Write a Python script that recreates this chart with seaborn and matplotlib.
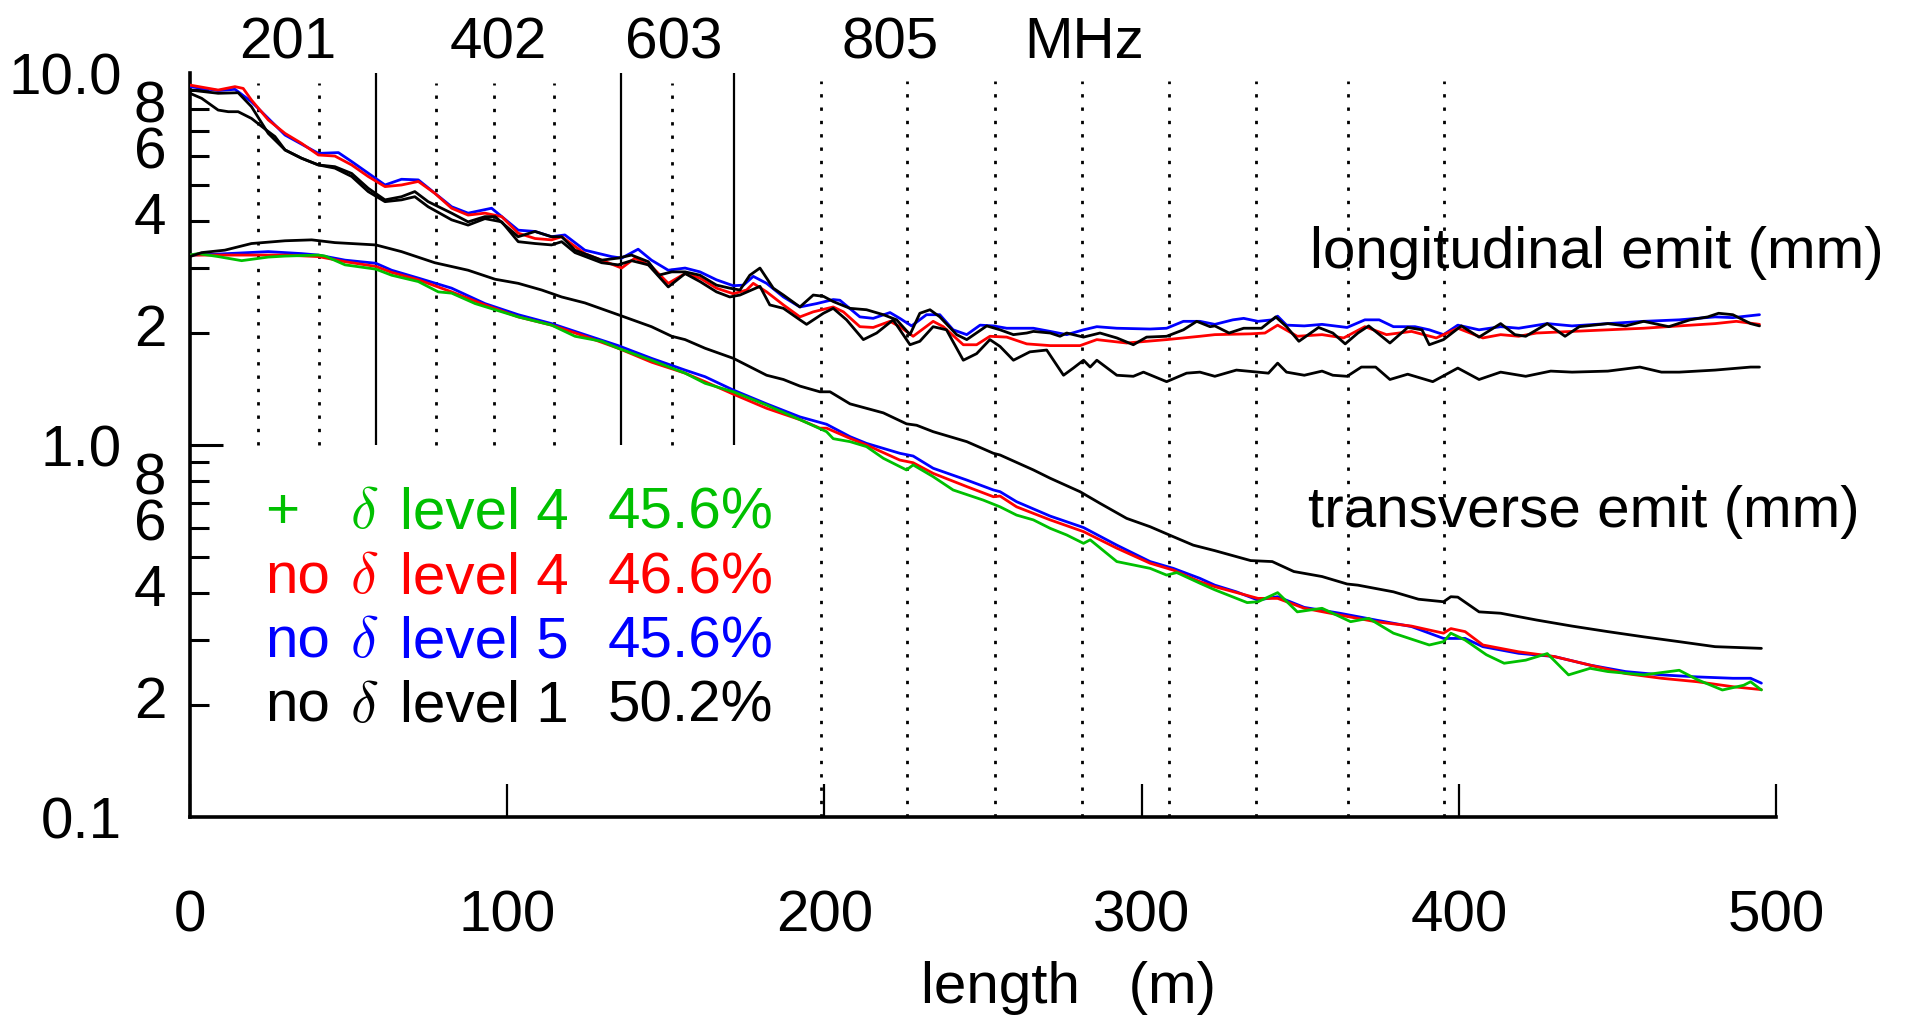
import matplotlib
matplotlib.use("Agg")
import matplotlib.pyplot as plt
import matplotlib.transforms as mtransforms
import seaborn as sns

# ------------------------------------------------------------
# data (length in m, emittance in mm)
# ------------------------------------------------------------
long_red = [(0, 9.28), (8.9, 9.00), (14.2, 9.19), (16.8, 9.09), (19.4, 8.46), (24.7, 7.48), (30.0, 6.88),
            (35.2, 6.47), (40.5, 6.02), (45.7, 5.98), (51.0, 5.66), (56.2, 5.27), (61.5, 4.95), (66.7, 5.00),
            (72.0, 5.11), (77.2, 4.75), (82.5, 4.33), (87.7, 4.15), (93.0, 4.20), (98.3, 4.11), (103.5, 3.71),
            (108.8, 3.59), (114.0, 3.56), (117.2, 3.63), (124.5, 3.27), (129.8, 3.14), (136.1, 2.99),
            (140.3, 3.18), (145.5, 3.02), (150.8, 2.72), (156.1, 2.89), (160.8, 2.81), (166.0, 2.64),
            (171.3, 2.55), (175.5, 2.61), (177.6, 2.72), (181.8, 2.58), (187.1, 2.38), (192.3, 2.21),
            (196.5, 2.28), (202.8, 2.35), (206.0, 2.28), (211.2, 2.08), (215.4, 2.07), (220.7, 2.15),
            (223.8, 2.08), (228.0, 1.96), (234.3, 2.15), (237.5, 2.08), (243.8, 1.86), (248.0, 1.86),
            (252.2, 1.96), (257.5, 1.95), (263.8, 1.87), (271.2, 1.85), (280.6, 1.85), (285.9, 1.92),
            (295.3, 1.88), (307.9, 1.92), (318.4, 1.96), (323.1, 1.98), (334.4, 1.99), (338.9, 2.00),
            (342.9, 2.10), (349.1, 1.96), (356.9, 1.98), (363.7, 1.94), (370.4, 2.08), (377.2, 1.98),
            (385.1, 2.02), (392.9, 1.94), (399.7, 2.06), (407.6, 1.94), (413.2, 1.98), (418.9, 1.96),
            (424.5, 2.00), (435.7, 2.02), (447.0, 2.04), (458.3, 2.06), (469.5, 2.09), (480.8, 2.12),
            (487.5, 2.15), (494.8, 2.11)]

long_blue = [(0, 9.19), (8.9, 8.97), (14.2, 9.04), (19.4, 8.37), (30.0, 6.81), (40.5, 6.08), (46.8, 6.11),
             (51.0, 5.78), (61.5, 5.00), (66.7, 5.18), (72.0, 5.16), (82.5, 4.37), (87.7, 4.20), (95.1, 4.33),
             (103.5, 3.78), (108.8, 3.75), (114.0, 3.63), (118.2, 3.67), (124.5, 3.34), (132.9, 3.21),
             (136.1, 3.18), (141.3, 3.36), (145.5, 3.14), (150.8, 2.95), (156.1, 2.99), (160.8, 2.92),
             (166.0, 2.78), (171.3, 2.68), (174.5, 2.69), (177.6, 2.84), (181.8, 2.72), (187.1, 2.50),
             (192.3, 2.35), (197.6, 2.40), (202.8, 2.46), (204.9, 2.45), (211.2, 2.21), (215.4, 2.19),
             (220.7, 2.27), (223.8, 2.19), (227.5, 2.09), (232.2, 2.24), (236.4, 2.24), (240.6, 2.04),
             (244.9, 1.98), (249.1, 2.10), (253.3, 2.09), (257.5, 2.06), (265.9, 2.06), (271.2, 2.02),
             (276.4, 1.98), (281.7, 2.04), (285.9, 2.08), (292.2, 2.06), (302.7, 2.05), (307.9, 2.06),
             (313.2, 2.15), (318.4, 2.15), (323.1, 2.11), (328.8, 2.17), (332.2, 2.19), (336.7, 2.15),
             (341.2, 2.17), (342.9, 2.22), (345.7, 2.10), (351.3, 2.09), (356.9, 2.11), (364.8, 2.07),
             (370.4, 2.17), (374.9, 2.17), (379.4, 2.08), (386.2, 2.08), (390.7, 2.04), (395.2, 1.98),
             (399.7, 2.10), (406.4, 2.04), (413.2, 2.08), (418.9, 2.06), (427.9, 2.12), (435.7, 2.09),
             (447.0, 2.12), (458.3, 2.15), (469.5, 2.17), (480.8, 2.21), (486.4, 2.20), (494.8, 2.24)]

long_black_a = [(0, 9.00), (8.9, 8.82), (15.2, 8.85), (19.4, 8.12), (24.7, 6.88), (30.0, 6.21), (35.2, 5.90),
                (40.5, 5.66), (45.7, 5.60), (51.0, 5.37), (56.2, 4.90), (61.5, 4.56), (66.7, 4.65), (70.9, 4.80),
                (75.1, 4.51), (82.5, 4.20), (87.7, 3.98), (93.0, 4.11), (96.2, 4.11), (103.5, 3.63),
                (108.8, 3.75), (114.0, 3.63), (117.2, 3.63), (121.4, 3.34), (129.8, 3.14), (135.0, 3.18),
                (139.2, 3.24), (144.5, 3.11), (147.7, 2.86), (151.9, 2.92), (156.1, 2.92), (160.8, 2.86),
                (166.0, 2.69), (170.2, 2.64), (173.4, 2.61), (176.5, 2.86), (179.7, 2.99), (183.9, 2.64),
                (187.1, 2.53), (192.3, 2.35), (196.5, 2.53), (199.7, 2.51), (202.8, 2.43), (208.1, 2.33),
                (213.3, 2.31), (218.6, 2.24), (222.8, 2.17), (227.0, 1.98), (230.1, 2.26), (233.3, 2.31),
                (236.4, 2.21), (241.7, 1.98), (244.9, 1.92), (251.2, 2.09), (255.4, 2.04), (259.6, 1.98),
                (263.8, 2.00), (265.9, 2.02), (271.2, 2.00), (274.3, 1.96), (276.4, 2.00), (281.7, 1.95),
                (286.9, 2.00), (292.2, 1.94), (297.4, 1.86), (301.6, 1.95), (307.9, 1.96), (313.2, 2.04),
                (317.4, 2.15), (321.6, 2.08), (323.1, 2.09), (327.6, 2.00), (332.2, 2.06), (337.8, 2.06),
                (342.3, 2.21), (345.7, 2.08), (349.6, 1.90), (355.8, 2.07), (360.3, 2.00), (364.2, 1.87),
                (368.2, 2.00), (371.6, 2.09), (378.3, 1.88), (383.9, 2.07), (388.4, 2.04), (390.7, 1.86),
                (395.2, 1.92), (400.8, 2.09), (406.4, 1.95), (413.2, 2.12), (417.7, 1.98), (421.1, 1.96),
                (427.9, 2.12), (433.5, 1.96), (438.0, 2.08), (447.0, 2.12), (452.6, 2.09), (458.3, 2.15),
                (466.2, 2.08), (472.9, 2.17), (478.5, 2.21), (481.9, 2.26), (486.4, 2.24), (492.0, 2.12),
                (494.8, 2.09)]

long_black_b = [(0, 8.82), (3.7, 8.55), (8.9, 7.95), (12.1, 7.87), (15.2, 7.87), (19.4, 7.55), (24.7, 6.96),
                (26.8, 6.75), (30.0, 6.21), (35.2, 5.90), (40.5, 5.66), (45.7, 5.55), (51.0, 5.27), (56.2, 4.80),
                (61.5, 4.51), (66.7, 4.56), (70.9, 4.65), (75.1, 4.37), (82.5, 4.03), (87.7, 3.90), (93.0, 4.06),
                (98.3, 3.98), (103.5, 3.52), (108.8, 3.48), (114.0, 3.45), (117.2, 3.52), (121.4, 3.29),
                (129.8, 3.09), (135.0, 3.05), (139.2, 3.13), (144.5, 3.05), (150.8, 2.66), (156.1, 2.89),
                (160.8, 2.75), (166.0, 2.58), (170.2, 2.50), (173.4, 2.53), (179.7, 2.67), (182.8, 2.38),
                (187.1, 2.33), (192.3, 2.17), (194.4, 2.11), (199.7, 2.26), (202.8, 2.33), (207.0, 2.17),
                (212.3, 1.92), (216.5, 2.00), (221.7, 2.17), (227.0, 1.86), (230.1, 1.90), (234.3, 2.08),
                (238.5, 2.04), (243.8, 1.69), (248.0, 1.76), (252.2, 1.92), (255.4, 1.84), (259.6, 1.69),
                (264.8, 1.78), (270.1, 1.80), (275.4, 1.54), (278.5, 1.61), (281.7, 1.69), (283.8, 1.62),
                (285.9, 1.69), (292.2, 1.54), (297.4, 1.53), (300.6, 1.57), (307.9, 1.48), (314.2, 1.56),
                (318.4, 1.57), (323.1, 1.53), (329.9, 1.59), (336.7, 1.57), (340.0, 1.56), (342.9, 1.66),
                (345.7, 1.57), (351.3, 1.54), (356.9, 1.58), (360.3, 1.54), (364.8, 1.53), (369.3, 1.62),
                (373.8, 1.62), (378.3, 1.50), (383.9, 1.55), (391.8, 1.48), (399.7, 1.61), (406.4, 1.50),
                (413.2, 1.57), (421.1, 1.53), (429.0, 1.58), (435.7, 1.57), (447.0, 1.58), (457.1, 1.62),
                (463.9, 1.57), (469.5, 1.57), (480.8, 1.59), (492.0, 1.62), (494.8, 1.62)]

trans_green = [(0, 3.24), (2.6, 3.27), (8.9, 3.21), (16.3, 3.13), (24.7, 3.20), (30.0, 3.22), (40.5, 3.24),
               (42.6, 3.22), (48.9, 3.05), (58.6, 2.97), (63.6, 2.86), (72.0, 2.75), (78.3, 2.58), (82.5, 2.56),
               (89.9, 2.40), (96.2, 2.31), (103.5, 2.21), (114.0, 2.10), (121.4, 1.96), (129.8, 1.90),
               (135.0, 1.82), (145.5, 1.69), (156.1, 1.56), (162.4, 1.465), (171.3, 1.39), (181.8, 1.28),
               (192.3, 1.17), (200.7, 1.086), (202.8, 1.04), (208.1, 1.021), (213.3, 0.99), (218.6, 0.921),
               (225.9, 0.857), (228.0, 0.884), (234.3, 0.822), (240.6, 0.757), (250.1, 0.711), (255.4, 0.682),
               (260.6, 0.648), (265.9, 0.629), (271.2, 0.597), (276.4, 0.573), (281.7, 0.544), (283.8, 0.556),
               (292.2, 0.486), (302.7, 0.466), (307.9, 0.447), (311.1, 0.454), (318.4, 0.425), (323.1, 0.408),
               (333.3, 0.377), (336.7, 0.379), (342.9, 0.401), (349.1, 0.356), (356.9, 0.364), (365.9, 0.335),
               (371.6, 0.342), (379.4, 0.312), (390.7, 0.290), (395.2, 0.296), (397.5, 0.312), (402.0, 0.299),
               (408.7, 0.273), (414.3, 0.259), (421.1, 0.264), (427.9, 0.275), (434.6, 0.241), (441.4, 0.251),
               (447.0, 0.246), (458.3, 0.241), (469.5, 0.248), (475.2, 0.234), (483.1, 0.2195), (489.8, 0.226),
               (492.0, 0.231), (495.4, 0.2195)]

trans_red = [(0, 3.24), (8.9, 3.24), (19.4, 3.24), (30.0, 3.24), (40.5, 3.21), (48.9, 3.11), (58.6, 3.02),
             (63.6, 2.91), (72.0, 2.78), (82.5, 2.58), (93.0, 2.38), (103.5, 2.21), (114.0, 2.10), (124.5, 1.96),
             (135.0, 1.82), (145.5, 1.67), (156.1, 1.56), (162.4, 1.48), (171.3, 1.37), (181.8, 1.255),
             (192.3, 1.17), (198.6, 1.11), (200.7, 1.11), (208.1, 1.042), (213.3, 1.00), (223.8, 0.911),
             (228.0, 0.896), (234.3, 0.839), (244.9, 0.773), (253.3, 0.726), (255.4, 0.729), (260.6, 0.682),
             (271.2, 0.629), (281.7, 0.585), (292.2, 0.528), (302.7, 0.481), (310.0, 0.461), (318.4, 0.429),
             (323.1, 0.416), (336.7, 0.387), (342.9, 0.387), (351.3, 0.364), (362.5, 0.349), (373.8, 0.335),
             (385.1, 0.326), (395.2, 0.312), (397.5, 0.321), (402.0, 0.315), (407.6, 0.290), (418.9, 0.278),
             (430.1, 0.270), (441.4, 0.256), (452.6, 0.243), (463.9, 0.236), (475.2, 0.231), (486.4, 0.224),
             (495.4, 0.220)]

trans_blue = [(0, 3.24), (8.9, 3.26), (24.7, 3.31), (35.2, 3.27), (40.5, 3.24), (48.9, 3.14), (58.6, 3.08),
              (63.6, 2.95), (72.0, 2.81), (82.5, 2.64), (93.0, 2.40), (103.5, 2.24), (114.0, 2.12), (124.5, 1.98),
              (135.0, 1.85), (145.5, 1.71), (156.1, 1.59), (162.4, 1.526), (171.3, 1.405), (181.8, 1.29),
              (192.3, 1.19), (200.7, 1.137), (208.1, 1.053), (213.3, 1.01), (223.8, 0.95), (228.0, 0.934),
              (234.3, 0.866), (244.9, 0.805), (253.3, 0.757), (255.4, 0.749), (260.6, 0.704), (271.2, 0.644),
              (281.7, 0.600), (292.2, 0.538), (302.7, 0.486), (310.0, 0.466), (318.4, 0.438), (323.1, 0.420),
              (329.9, 0.403), (336.7, 0.383), (342.9, 0.391), (351.3, 0.366), (362.5, 0.353), (373.8, 0.3385),
              (385.1, 0.325), (395.2, 0.302), (402.0, 0.302), (407.6, 0.287), (418.9, 0.2754), (430.1, 0.270),
              (441.4, 0.256), (452.6, 0.246), (463.9, 0.241), (475.2, 0.238), (486.4, 0.236), (492.0, 0.236),
              (495.4, 0.229)]

trans_black = [(0, 3.21), (3.7, 3.29), (11.0, 3.34), (19.4, 3.48), (30.0, 3.54), (38.4, 3.56), (45.7, 3.50),
               (58.6, 3.45), (66.7, 3.31), (77.2, 3.09), (87.7, 2.95), (96.2, 2.79), (103.5, 2.72), (110.9, 2.61),
               (117.2, 2.50), (124.5, 2.41), (135.0, 2.24), (145.5, 2.08), (151.9, 1.96), (156.1, 1.92),
               (162.4, 1.82), (171.3, 1.71), (181.8, 1.54), (187.1, 1.50), (192.3, 1.44), (198.6, 1.39),
               (201.8, 1.39), (208.1, 1.29), (218.6, 1.22), (225.9, 1.14), (229.1, 1.13), (234.3, 1.086),
               (244.9, 1.021), (253.3, 0.95), (255.4, 0.94), (265.9, 0.857), (271.2, 0.814), (280.6, 0.749),
               (286.9, 0.697), (295.3, 0.635), (302.7, 0.603), (310.0, 0.567), (316.3, 0.538), (323.1, 0.520),
               (334.4, 0.489), (341.2, 0.486), (348.0, 0.457), (356.9, 0.443), (364.8, 0.423), (368.2, 0.420),
               (379.4, 0.403), (387.3, 0.385), (395.2, 0.379), (397.5, 0.391), (399.7, 0.390), (406.4, 0.356),
               (413.2, 0.353), (424.5, 0.3385), (435.7, 0.326), (447.0, 0.315), (458.3, 0.305), (469.5, 0.296),
               (480.8, 0.287), (495.4, 0.284)]

# cavity section markers (m)
solid_x = [58.6, 135.8, 171.5]
dotted_short_x = [21.6, 40.6, 77.6, 95.9, 114.9, 151.9]
dotted_long_x = [198.9, 226.2, 253.9, 281.2, 308.6, 336.2, 365.2, 395.4]

freq_labels = ["201", "402", "603", "805", "MHz"]
freq_x = [30.9, 97.1, 152.4, 220.7, 282.0]

legend_prefix = ["+", "no", "no", "no"]
legend_level = ["level 4", "level 4", "level 5", "level 1"]
legend_pct = ["45.6%", "46.6%", "45.6%", "50.2%"]

x_ticks = [0, 100, 200, 300, 400, 500]
y_major = [0.1, 1.0, 10.0]
y_major_labels = ["0.1", "1.0", "10.0"]
y_minor = [0.2, 0.3, 0.4, 0.5, 0.6, 0.7, 0.8, 0.9, 2, 3, 4, 5, 6, 7, 8, 9]
y_minor_labels = ["2", "", "4", "", "6", "", "8", "", "2", "", "4", "", "6", "", "8", ""]

GREEN, RED, BLUE, BLACK = "#00c000", "#ff0000", "#0000ff", "#000000"
legend_colors = [GREEN, RED, BLUE, BLACK]

# ------------------------------------------------------------
# style
# ------------------------------------------------------------
sns.set_style("ticks")
plt.rcParams["font.family"] = ["Liberation Sans", "DejaVu Sans"]
plt.rcParams["mathtext.fontset"] = "cm"
for key in ["text.color", "axes.labelcolor", "xtick.color", "ytick.color", "axes.edgecolor"]:
    plt.rcParams[key] = "black"
FS = 42

fig = plt.figure(figsize=(19.3, 10.21), dpi=100)
ax = fig.add_axes([0.0984, 0.1998, 0.8218, 0.7287])
ax.set_yscale("log")

# section lines
dots = (0, (1.2, 3.6))
ax.vlines(solid_x, 1.0, 10.0, colors="black", lw=1.6, zorder=1)
ax.vlines(dotted_short_x, 1.0, 9.4, colors="black", lw=2.0, linestyles=dots, zorder=1)
ax.vlines(dotted_long_x, 0.1, 9.5, colors="black", lw=2.0, linestyles=dots, zorder=1)

# curves
curves = [(long_blue, BLUE), (long_red, RED), (long_black_b, BLACK), (long_black_a, BLACK),
          (trans_blue, BLUE), (trans_red, RED), (trans_green, GREEN), (trans_black, BLACK)]
for pts, col in curves:
    xs = [p[0] for p in pts]
    ys = [p[1] for p in pts]
    sns.lineplot(x=xs, y=ys, ax=ax, color=col, lw=2.0, estimator=None, sort=False, zorder=3)

ax.set_xlim(0, 500)
ax.set_ylim(0.1, 10)

# axes / ticks
ax.set_xticks(x_ticks, labels=[str(v) for v in x_ticks])
ax.set_yticks(y_major, labels=y_major_labels)
ax.set_yticks(y_minor, labels=y_minor_labels, minor=True)
ax.tick_params(axis="y", which="major", direction="in", length=24, width=2.2, pad=49, labelsize=FS)
ax.tick_params(axis="y", which="minor", direction="in", length=14, width=2.2, pad=17, labelsize=FS)
ax.tick_params(axis="x", which="major", direction="in", length=24, width=1.6, pad=52, labelsize=FS)
ax.tick_params(axis="x", which="minor", bottom=False)
for i, t in enumerate(ax.yaxis.get_major_ticks()):
    if i != 1:
        t.tick1line.set_visible(False)
# the small digit labels sit a little above their ticks in the original
lift = mtransforms.ScaledTranslation(0, 0.08, fig.dpi_scale_trans)
for t in ax.yaxis.get_minor_ticks():
    t.label1.set_transform(t.label1.get_transform() + lift)

for s in ["top", "right"]:
    ax.spines[s].set_visible(False)
for s in ["left", "bottom"]:
    ax.spines[s].set_linewidth(2.6)

ax.set_xlabel("length   (m)", fontsize=FS, va="baseline")
ax.xaxis.set_label_coords(0.554, -0.25)
ax.set_ylabel("")

# labels inside the plot
ax.text(0.706, 0.738, "longitudinal emit (mm)", transform=ax.transAxes, fontsize=FS,
        ha="left", va="baseline", clip_on=False)
ax.text(0.705, 0.390, "transverse emit (mm)", transform=ax.transAxes, fontsize=FS,
        ha="left", va="baseline")

# frequency labels on top
top = mtransforms.blended_transform_factory(ax.transData, ax.transAxes)
for lab, fx in zip(freq_labels, freq_x):
    ax.text(fx, 1.020, lab, transform=top, fontsize=FS, ha="center", va="baseline")

# coloured key
legend_y = [0.388, 0.301, 0.215, 0.128]
for pre, lev, pct, col, ly in zip(legend_prefix, legend_level, legend_pct, legend_colors, legend_y):
    ax.text(0.0473, ly, pre, transform=ax.transAxes, fontsize=FS, color=col, va="baseline")
    ax.text(0.101, ly, r"$\delta$", transform=ax.transAxes, fontsize=FS, color=col, va="baseline")
    ax.text(0.1325, ly, lev, transform=ax.transAxes, fontsize=FS, color=col, va="baseline")
    ax.text(0.2636, ly, pct, transform=ax.transAxes, fontsize=FS, color=col, va="baseline")

fig.savefig("out.png", dpi=100)
